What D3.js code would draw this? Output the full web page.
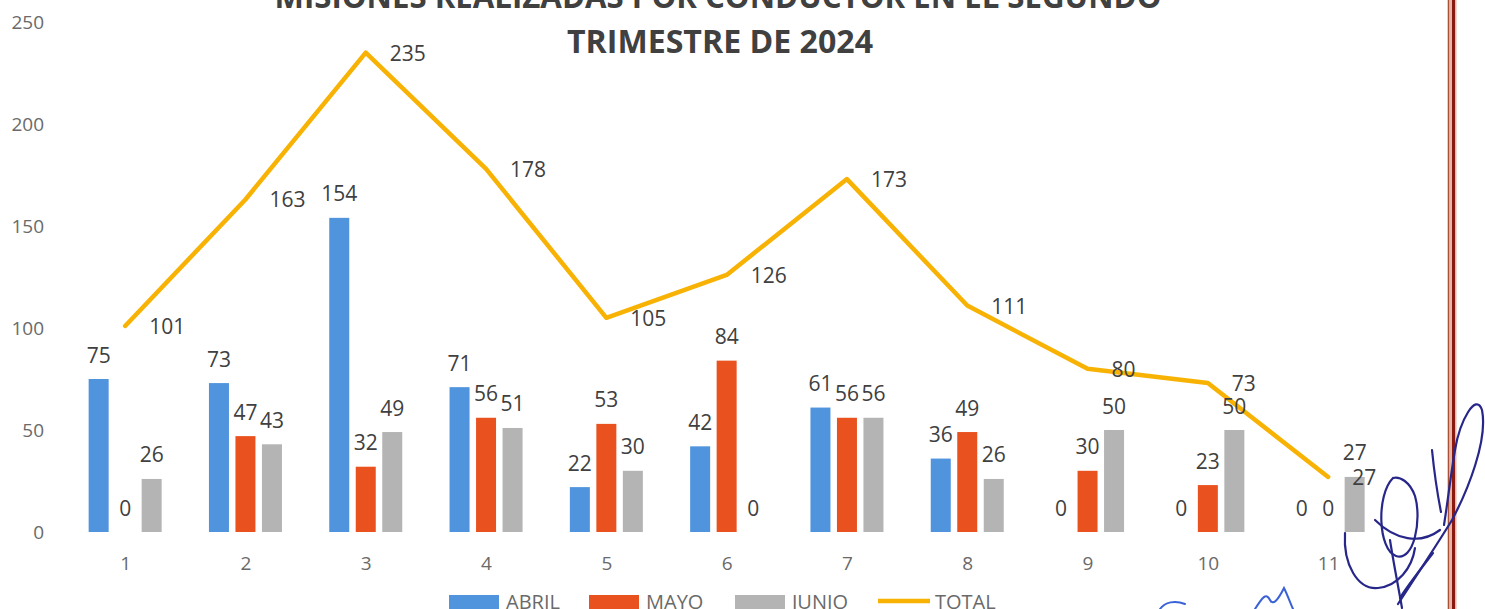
<!DOCTYPE html>
<html><head><meta charset="utf-8">
<script src="https://cdn.jsdelivr.net/npm/d3@7"></script>
<style>
html,body{margin:0;padding:0;background:#fff;}
svg{display:block;font-family:"Open Sans",sans-serif;}
</style></head>
<body><svg id="c" width="1485" height="609"></svg>
<script>
const categories = ["1","2","3","4","5","6","7","8","9","10","11"];
const abril = [75,73,154,71,22,42,61,36,0,0,0];
const mayo  = [0,47,32,56,53,84,56,49,30,23,0];
const junio = [26,43,49,51,30,0,56,26,50,50,27];
const total = [101,163,235,178,105,126,173,111,80,73,27];
const yTicks = [0,50,100,150,200,250];
const seriesNames = ["ABRIL","MAYO","JUNIO"];
const seriesValues = [abril, mayo, junio];
const colors = {ABRIL:"#4f94dd", MAYO:"#e9521f", JUNIO:"#b4b4b4", TOTAL:"#f7b204"};
const titleLines = ["MISIONES REALIZADAS POR CONDUCTOR EN EL SEGUNDO","TRIMESTRE DE 2024"];

const svg = d3.select("#c");
const x0 = d3.scaleBand().domain(categories).range([65, 1388.3]).paddingInner(0).paddingOuter(0);
const x1 = d3.scaleBand().domain(seriesNames).range([-36.5, 36.5]).paddingInner(0.2453).paddingOuter(0);
const y = d3.scaleLinear().domain([0,250]).range([532,22]);
const cx = c => x0(c) + x0.bandwidth()/2;

// Title
svg.append("text").attr("x",718).attr("y",8).attr("text-anchor","middle")
  .attr("font-size",32).attr("font-weight",700).attr("fill","#404040")
  .attr("textLength",887).attr("lengthAdjust","spacingAndGlyphs").text(titleLines[0]);
svg.append("text").attr("x",720).attr("y",53).attr("text-anchor","middle")
  .attr("font-size",32).attr("font-weight",700).attr("fill","#404040")
  .attr("textLength",306).attr("lengthAdjust","spacingAndGlyphs").text(titleLines[1]);

// Y axis
const yAxis = d3.axisLeft(y).tickValues(yTicks).tickSize(0).tickPadding(0);
const gy = svg.append("g").attr("transform","translate(44,0)").call(yAxis);
gy.select(".domain").remove();
gy.selectAll("text").attr("font-size",19).attr("fill","#6a6a6a").attr("font-family","Open Sans");

// X axis
const xAxis = d3.axisBottom(d3.scalePoint().domain(categories).range([cx("1"), cx("11")])).tickSize(0).tickPadding(0);
const gx = svg.append("g").attr("transform","translate(0,556)").call(xAxis);
gx.select(".domain").remove();
gx.selectAll("text").attr("font-size",19).attr("fill","#6a6a6a").attr("font-family","Open Sans");

// Bars
const barData = [];
categories.forEach((c,i)=>{
  seriesNames.forEach((s,j)=>{ barData.push({c, s, v: seriesValues[j][i]}); });
});
svg.append("g").selectAll("rect").data(barData.filter(d=>d.v>0)).join("rect")
  .attr("x", d=>cx(d.c)+x1(d.s)).attr("width", x1.bandwidth())
  .attr("y", d=>y(d.v)).attr("height", d=>y(0)-y(d.v))
  .attr("fill", d=>colors[d.s]);

// Total line
const line = d3.line().x((d,i)=>cx(categories[i])).y(d=>y(d));
svg.append("path").datum(total).attr("d", line).attr("fill","none")
  .attr("stroke", colors.TOTAL).attr("stroke-width",4.5).attr("stroke-linejoin","round").attr("stroke-linecap","round");

// Bar labels
svg.append("g").selectAll("text").data(barData).join("text")
  .attr("x", d=>cx(d.c)+x1(d.s)+x1.bandwidth()/2).attr("y", d=>y(d.v)-16.5)
  .attr("text-anchor","middle").attr("font-size",21).attr("fill","#404040").text(d=>d.v);

// Total labels
svg.append("g").selectAll("text").data(total).join("text")
  .attr("x", (d,i)=>cx(categories[i])+24).attr("y", d=>y(d)+8)
  .attr("font-size",21).attr("fill","#404040").text(d=>d);

// Legend
const legend = [
  {name:"ABRIL", x:449, type:"rect"},
  {name:"MAYO", x:589, type:"rect"},
  {name:"JUNIO", x:735, type:"rect"},
  {name:"TOTAL", x:878, type:"line"}
];
const lg = svg.append("g");
legend.forEach(l=>{
  if(l.type==="rect") lg.append("rect").attr("x",l.x).attr("y",595).attr("width",50).attr("height",14).attr("fill",colors[l.name]);
  else lg.append("line").attr("x1",l.x).attr("x2",l.x+52).attr("y1",601).attr("y2",601).attr("stroke",colors.TOTAL).attr("stroke-width",4.5);
  lg.append("text").attr("x",l.x+57).attr("y",609).attr("font-size",20).attr("fill","#6a6a6a").text(l.name);
});

// Scanned page border (right)
svg.append("rect").attr("x",1447.5).attr("y",0).attr("width",9).attr("height",609).attr("fill","#e9b6a6");
svg.append("line").attr("x1",1448.5).attr("x2",1448.5).attr("y1",0).attr("y2",609).attr("stroke","#a8503a").attr("stroke-width",1.2);
svg.append("line").attr("x1",1453.5).attr("x2",1453.5).attr("y1",0).attr("y2",609).attr("stroke","#8a1a10").attr("stroke-width",3);

// Signatures (scan decoration)
const sig = svg.append("g").attr("fill","none").attr("stroke","#27278a").attr("stroke-width",2.2).attr("stroke-linecap","round");
[
 "M1345,533 C1343,565 1358,590 1378,588 C1398,586 1412,568 1415,548",
 "M1393,478 C1376,495 1378,550 1396,556 C1414,562 1422,520 1415,496 C1410,482 1400,476 1393,478",
 "M1398,604 C1420,570 1440,540 1452,520 C1468,490 1488,440 1482,410 C1476,392 1460,420 1455,450 C1450,480 1448,500 1444,525",
 "M1432,450 C1434,470 1437,492 1441,512",
 "M1390,540 C1393,560 1398,585 1402,608",
 "M1433,553 C1420,570 1408,585 1400,598",
 "M1375,520 C1395,540 1420,545 1440,530"
].forEach(d=>sig.append("path").attr("d",d));
const sig2 = svg.append("g").attr("fill","none").attr("stroke","#3a62d6").attr("stroke-width",2).attr("stroke-linecap","round");
[
 "M1160,609 C1165,602 1175,600 1185,604",
 "M1255,609 C1262,598 1266,592 1270,600 C1273,606 1278,600 1284,588 C1287,594 1290,602 1293,609"
].forEach(d=>sig2.append("path").attr("d",d));
</script>
</body></html>
